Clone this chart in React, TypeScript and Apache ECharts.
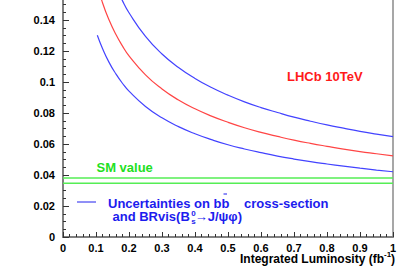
import React, { useEffect, useRef } from "react";
import * as echarts from "echarts";

// Integrated luminosity (fb^-1) sample points
const luminosity = [0.1, 0.12, 0.14, 0.16, 0.18, 0.2, 0.25, 0.3, 0.35, 0.4, 0.45, 0.5, 0.55, 0.6, 0.65, 0.7, 0.75, 0.8, 0.85, 0.9, 0.95, 1.0];
const luminosityLower = [0.104, 0.12, 0.14, 0.16, 0.18, 0.2, 0.25, 0.3, 0.35, 0.4, 0.45, 0.5, 0.55, 0.6, 0.65, 0.7, 0.75, 0.8, 0.85, 0.9, 0.95, 1.0];

// Upper uncertainty band (blue)
const upperValues = [0.2046, 0.1868, 0.1729, 0.1618, 0.1525, 0.1447, 0.1294, 0.1181, 0.1094, 0.1023, 0.0964, 0.0915, 0.0872, 0.0835, 0.0803, 0.0773, 0.0747, 0.0723, 0.0702, 0.0682, 0.0664, 0.0647];
// Central value (red)
const centralValues = [0.1654, 0.151, 0.1398, 0.1308, 0.1233, 0.1169, 0.1046, 0.0955, 0.0884, 0.0827, 0.078, 0.074, 0.0705, 0.0675, 0.0649, 0.0625, 0.0604, 0.0585, 0.0567, 0.0551, 0.0537, 0.0523];
// Lower uncertainty band (blue)
const lowerValues = [0.1302, 0.1215, 0.1125, 0.1053, 0.0992, 0.0941, 0.0842, 0.0769, 0.0712, 0.0666, 0.0628, 0.0595, 0.0568, 0.0544, 0.0522, 0.0503, 0.0486, 0.0471, 0.0457, 0.0444, 0.0432, 0.0421];

// SM value band
const smValues = [0.0381, 0.0346];
const xRange = [0, 1];

const xTicks = { min: 0, max: 1, interval: 0.1 };
const yTicks = { min: 0, max: 0.16, interval: 0.02, lastLabel: 0.14 };

const BLUE = "#4343ff";
const RED = "#ff4545";
const GREEN = "#55ee55";
const FONT = "Liberation Sans";

export default function App() {
  const ref = useRef<HTMLDivElement>(null);

  useEffect(() => {
    if (!ref.current) return;
    const chart = echarts.init(ref.current, null, { renderer: "svg" });

    const pairs = (xs: number[], ys: number[]) => xs.map((x, i) => [x, ys[i]]);

    const curve = (name: string, data: number[][], color: string) => ({
      name,
      type: "line",
      data,
      smooth: true,
      symbol: "none",
      clip: true,
      lineStyle: { color, width: 1.2 },
      z: 3,
    });

    const smLine = (v: number) => ({
      type: "line",
      data: xRange.map((x) => [x, v]),
      symbol: "none",
      lineStyle: { color: GREEN, width: 1.5 },
      z: 2,
    });

    const txt = (text: string, x: number, y: number, fill: string, size: number, align = "left") => ({
      type: "text",
      x,
      y,
      z: 10,
      style: {
        text,
        fill,
        font: `bold ${size}px "${FONT}"`,
        lineHeight: size <= 8 ? 8 : size - 2,
        textAlign: align,
        textVerticalAlign: "middle",
      },
    });

    chart.setOption({
      animation: false,
      backgroundColor: "#ffffff",
      grid: {
        left: 63,
        right: 6,
        top: -11,
        bottom: 35,
        outerBoundsMode: "none",
        containLabel: false,
        show: true,
        borderColor: "#8a8a8a",
        borderWidth: 1.5,
        backgroundColor: "transparent",
      },
      xAxis: {
        type: "value",
        min: xTicks.min,
        max: xTicks.max,
        interval: xTicks.interval,
        axisLine: { show: true, lineStyle: { color: "#808080", width: 2 } },
        axisTick: { show: true, inside: true, length: 5, lineStyle: { color: "#333", width: 1 } },
        minorTick: { show: true, splitNumber: 5, length: 3, lineStyle: { color: "#333", width: 1 } },
        splitLine: { show: false },
        axisLabel: { color: "#000", fontFamily: FONT, fontWeight: "bold", fontSize: 11, margin: 5 },
      },
      yAxis: {
        type: "value",
        min: yTicks.min,
        max: yTicks.max,
        interval: yTicks.interval,
        axisLine: { show: true, lineStyle: { color: "#808080", width: 2 } },
        axisTick: { show: true, inside: true, length: 6, lineStyle: { color: "#333", width: 1 } },
        minorTick: { show: true, splitNumber: 4, length: 3, lineStyle: { color: "#333", width: 1 } },
        splitLine: { show: false },
        axisLabel: {
          color: "#000",
          fontFamily: FONT,
          fontWeight: "bold",
          fontSize: 11,
          margin: 8,
          formatter: (v: number) => (v > yTicks.lastLabel + 1e-9 ? "" : String(v)),
        },
      },
      series: [
        smLine(smValues[0]),
        smLine(smValues[1]),
        curve("upper", pairs(luminosity, upperValues), BLUE),
        curve("central", pairs(luminosity, centralValues), RED),
        curve("lower", pairs(luminosityLower, lowerValues), BLUE),
      ],
      graphic: [
        // axis title
        txt("Integrated Luminosity (fb", 384, 259, "#000", 12, "right"),
        txt("-1", 384, 254, "#000", 8),
        txt(")", 391, 259, "#000", 12),
        // annotations
        txt("LHCb 10TeV", 287, 76, "#ff1a1a", 13),
        txt("SM value", 96.5, 167, "#22e022", 13),
        // legend
        {
          type: "line",
          z: 10,
          shape: { x1: 77, y1: 202, x2: 96, y2: 202 },
          style: { stroke: "#2020ee", lineWidth: 1 },
        },
        txt("Uncertainties on bb", 108, 203, "#1c1cee", 13),
        {
          type: "line",
          z: 10,
          shape: { x1: 223.5, y1: 194, x2: 227, y2: 194 },
          style: { stroke: "#1c1cee", lineWidth: 1 },
        },
        txt("cross-section", 328.5, 203, "#1c1cee", 13, "right"),
        txt("and BRvis(B", 112.5, 216.5, "#1c1cee", 13),
        txt("0\ns", 193.5, 217.5, "#1c1cee", 8, "center"),
        txt("\u2192J/\u03c8\u03c6)", 242, 216.5, "#1c1cee", 13, "right"),
      ],
    });

    return () => chart.dispose();
  }, []);

  return (
    <div
      ref={ref}
      style={{ position: "fixed", left: 0, top: 0, width: 399, height: 272 }}
    />
  );
}
